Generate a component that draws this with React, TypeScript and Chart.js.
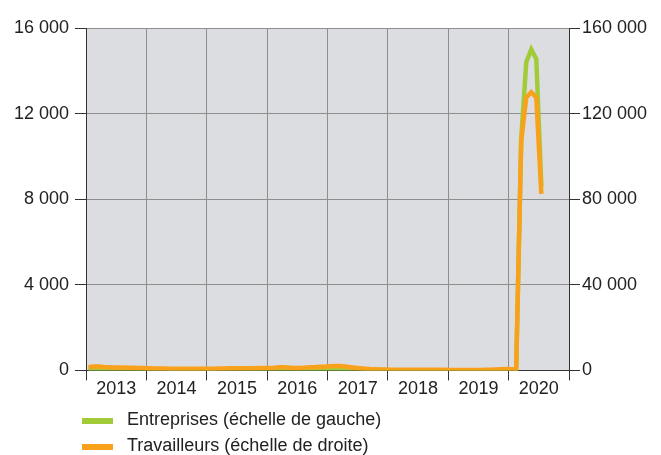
import React, { useEffect, useRef } from 'react';
import { Chart, registerables } from 'chart.js';

Chart.register(...registerables);

const FONT = "'Liberation Sans', Arial, sans-serif";

const years = ['2013', '2014', '2015', '2016', '2017', '2018', '2019', '2020'];
const months = ['01', '02', '03', '04', '05', '06', '07', '08', '09', '10', '11', '12'];
const monthLabels = years.flatMap((y) => months.map((m) => `${y}-${m}`));

// Entreprises (left scale), monthly Jan 2013 – Jul 2020
const entreprises = [
  60, 80, 80, 70, 65, 60, 55, 55, 50, 50, 45, 45, // 2013
  40, 35, 35, 35, 30, 30, 30, 30, 30, 30, 30, 30, // 2014
  30, 30, 35, 35, 40, 40, 40, 40, 40, 40, 45, 45, // 2015
  45, 50, 60, 60, 55, 45, 45, 55, 60, 60, 70, 70, // 2016
  75, 80, 80, 70, 60, 50, 40, 35, 25, 20, 15, 15, // 2017
  10, 10, 10, 10, 10, 10, 10, 10, 10, 10, 10, 10, // 2018
  10, 10, 10, 10, 10, 10, 10, 10, 10, 15, 20, 25, // 2019
  30, 40, 10800, 14400, 15000, 14550, 8600, // 2020
];

// Travailleurs (right scale)
const travailleurs = [
  1500, 1800, 1800, 1600, 1500, 1400, 1300, 1300, 1200, 1200, 1100, 1100, // 2013
  1000, 900, 900, 900, 800, 800, 800, 800, 800, 800, 800, 800, // 2014
  800, 800, 900, 900, 1000, 1000, 1000, 1000, 1000, 1000, 1100, 1100, // 2015
  1100, 1200, 1500, 1500, 1300, 1100, 1100, 1300, 1500, 1500, 1700, 1700, // 2016
  1900, 2000, 2000, 1800, 1500, 1200, 1000, 800, 600, 500, 400, 400, // 2017
  300, 300, 300, 300, 300, 300, 300, 300, 300, 300, 300, 300, // 2018
  200, 200, 200, 200, 200, 200, 200, 300, 300, 400, 500, 600, // 2019
  500, 700, 107000, 127500, 130000, 127500, 82500, // 2020
];

const leftTicks = [0, 4000, 8000, 12000, 16000];
const rightTicks = [0, 40000, 80000, 120000, 160000];

const seriesNames = ['Entreprises (échelle de gauche)', 'Travailleurs (échelle de droite)'];
const GREEN = '#a2cb3a';
const ORANGE = '#f9a11b';

const fmt = (v: number) => String(v).replace(/\B(?=(\d{3})+(?!\d))/g, ' ');

const bgPlugin = {
  id: 'plotBg',
  beforeDraw(chart: any) {
    const { ctx, chartArea } = chart;
    ctx.save();
    ctx.fillStyle = '#dcdde0';
    ctx.fillRect(chartArea.left, chartArea.top, chartArea.right - chartArea.left, chartArea.bottom - chartArea.top);
    ctx.restore();
  },
};

export default function App() {
  const ref = useRef<HTMLCanvasElement>(null);

  useEffect(() => {
    if (!ref.current) return;
    const tickFont = { family: FONT, size: 18 };
    const chart = new Chart(ref.current, {
      type: 'line',
      data: {
        labels: monthLabels,
        datasets: [
          {
            label: seriesNames[0],
            data: entreprises,
            borderColor: GREEN,
            backgroundColor: GREEN,
            borderWidth: 4.5,
            xAxisID: 'xm',
            yAxisID: 'y',
            order: 1,
          },
          {
            label: seriesNames[1],
            data: travailleurs,
            borderColor: ORANGE,
            backgroundColor: ORANGE,
            borderWidth: 4.5,
            xAxisID: 'xm',
            yAxisID: 'y1',
            order: 0,
          },
        ],
      },
      options: {
        animation: false,
        responsive: false,
        devicePixelRatio: 1,
        layout: { padding: { top: 28, bottom: 57, left: 0, right: 0 } },
        plugins: { legend: { display: false }, tooltip: { enabled: false } },
        elements: { point: { radius: 0 }, line: { tension: 0, borderJoinStyle: 'miter' } },
        scales: {
          xm: { type: 'category', labels: monthLabels, offset: true, display: false },
          x: {
            type: 'category',
            labels: years,
            offset: true,
            position: 'bottom',
            grid: { offset: true, color: '#8e8e8e', tickColor: '#333', tickLength: 10, drawOnChartArea: true },
            border: { color: '#333' },
            ticks: { color: '#222', font: tickFont, padding: -2, maxRotation: 0, autoSkip: false },
          },
          y: {
            type: 'linear',
            position: 'left',
            min: 0,
            max: 16000,
            afterBuildTicks: (s: any) => { s.ticks = leftTicks.map((v) => ({ value: v })); },
            ticks: { color: '#222', font: tickFont, padding: 6, callback: (v: any) => fmt(Number(v)) },
            grid: { color: '#8e8e8e', tickColor: '#333', tickLength: 11 },
            border: { color: '#333' },
            afterFit: (s: any) => { s.width = 86; },
          },
          y1: {
            type: 'linear',
            position: 'right',
            min: 0,
            max: 160000,
            afterBuildTicks: (s: any) => { s.ticks = rightTicks.map((v) => ({ value: v })); },
            ticks: { color: '#222', font: tickFont, padding: 2, callback: (v: any) => fmt(Number(v)) },
            grid: { drawOnChartArea: false, tickColor: '#333', tickLength: 11 },
            border: { color: '#333' },
            afterFit: (s: any) => { s.width = 92; },
          },
        },
      } as any,
      plugins: [bgPlugin],
    });
    return () => chart.destroy();
  }, []);

  const legendRow = (color: string, text: string, top: number) => (
    <div style={{ position: 'absolute', left: 0, top, height: 22, width: 661 }}>
      <div style={{ position: 'absolute', left: 82, top: 10, width: 31, height: 5.5, background: color }} />
      <div
        style={{
          position: 'absolute',
          left: 127,
          top: 0,
          fontFamily: FONT,
          fontSize: 18,
          lineHeight: '22px',
          color: '#222',
          whiteSpace: 'nowrap',
        }}
      >
        {text}
      </div>
    </div>
  );

  return (
    <div style={{ position: 'fixed', left: 0, top: 0, width: 661, height: 455, background: '#fff' }}>
      <canvas ref={ref} width={661} height={455} style={{ display: 'block', width: 661, height: 455 }} />
      {legendRow(GREEN, seriesNames[0], 408)}
      {legendRow(ORANGE, seriesNames[1], 434)}
    </div>
  );
}
